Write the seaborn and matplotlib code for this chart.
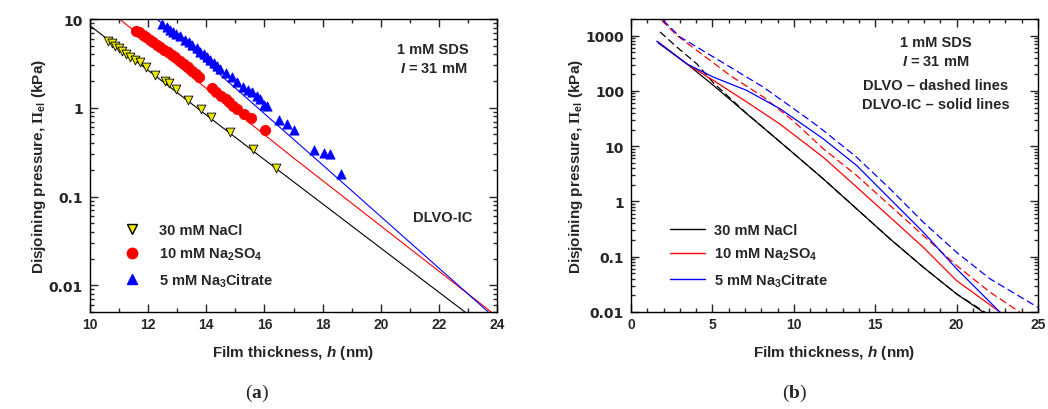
import numpy as np
import pandas as pd
import matplotlib
matplotlib.use("Agg")
import matplotlib.pyplot as plt
import seaborn as sns
from matplotlib.lines import Line2D
from matplotlib.ticker import MultipleLocator, LogLocator, NullFormatter, FixedLocator, FixedFormatter

# ---- panel (a): measured points ----
nacl_h = [10.63, 10.75, 10.86, 10.98, 11.09, 11.24, 11.38, 11.55, 11.72, 11.93, 12.24, 12.59,
          12.70, 12.97, 13.36, 13.82, 14.17, 14.80, 15.61, 16.41]
nacl_p = [5.70, 5.32, 5.00, 4.67, 4.40, 4.03, 3.70, 3.45, 3.25, 2.85, 2.34, 2.02,
          1.90, 1.63, 1.23, 0.966, 0.79, 0.54, 0.342, 0.212]

so4_h = [11.59, 11.70, 11.82, 11.93, 12.05, 12.16, 12.30, 12.41, 12.55, 12.67, 12.82, 12.93,
         13.08, 13.22, 13.36, 13.51, 13.66, 13.74, 14.20, 14.34, 14.51, 14.66, 14.77, 14.92,
         15.06, 15.29, 15.52, 16.02]
so4_p = [7.38, 7.08, 6.66, 6.21, 5.85, 5.46, 5.14, 4.79, 4.51, 4.21, 3.93, 3.70,
         3.39, 3.11, 2.85, 2.61, 2.40, 2.20, 1.65, 1.51, 1.36, 1.25, 1.15, 1.05,
         0.98, 0.85, 0.76, 0.565]

cit_h = [12.47, 12.64, 12.76, 12.87, 12.97, 13.08, 13.28, 13.39, 13.51, 13.68, 13.79, 13.91,
         14.02, 14.14, 14.28, 14.37, 14.48, 14.69, 14.89, 15.06, 15.26, 15.43, 15.57, 15.75,
         15.86, 16.00, 16.09, 16.49, 16.78, 17.01, 17.70, 18.05, 18.25, 18.62]
cit_p = [8.79, 8.06, 7.58, 7.08, 6.78, 6.38, 5.85, 5.46, 5.09, 4.67, 4.28, 4.03,
         3.70, 3.48, 3.19, 2.98, 2.73, 2.46, 2.20, 1.93, 1.70, 1.60, 1.49, 1.36,
         1.25, 1.07, 1.04, 0.73, 0.65, 0.565, 0.336, 0.308, 0.30, 0.179]

# DLVO-IC fit lines (a)
fit_nacl_h = [10.0, 16.0, 22.93]
fit_nacl_p = [8.4, 0.26, 0.0049]
fit_so4_h = [11.01, 17.0, 23.8]
fit_so4_p = [10.0, 0.272, 0.0050]
fit_cit_h = [12.30, 18.0, 23.7]
fit_cit_p = [10.0, 0.227, 0.0050]

# ---- panel (b): theory curves (IC = solid, DLVO = dashed) ----
b_nacl_ic_h = [1.68, 3.42, 5.06, 7.11, 9.15, 11.81, 13.86, 15.91, 17.95, 20.0, 21.64]
b_nacl_ic_p = [738, 311, 126, 38.6, 12.0, 2.56, 0.735, 0.21, 0.0646, 0.0212, 0.0099]
b_nacl_dl_h = [1.78, 2.81, 4.04, 5.06, 7.11, 9.15, 11.81, 13.86, 15.91, 17.95, 20.0, 21.75]
b_nacl_dl_p = [1167, 624, 309, 140, 39.0, 12.0, 2.56, 0.735, 0.21, 0.0646, 0.0212, 0.0099]

b_so4_ic_h = [1.68, 3.42, 5.06, 7.11, 9.15, 11.81, 13.86, 15.91, 17.95, 20.0, 22.67]
b_so4_ic_p = [769, 309, 155, 63, 25.1, 6.31, 1.82, 0.519, 0.148, 0.0369, 0.0099]
b_so4_dl_h = [1.88, 2.81, 4.04, 6.08, 8.13, 9.94, 11.81, 13.86, 15.91, 17.95, 20.0, 22.05, 23.89]
b_so4_dl_p = [1892, 1012, 542, 191, 77.6, 29.2, 8.97, 2.95, 0.843, 0.242, 0.0692, 0.0228, 0.0099]

b_cit_ic_h = [1.58, 3.42, 5.06, 7.11, 9.15, 11.81, 13.86, 15.91, 17.95, 20.0, 22.67]
b_cit_ic_p = [794, 309, 178, 102, 47.6, 13.6, 4.47, 1.11, 0.278, 0.0603, 0.0099]
b_cit_dl_h = [1.98, 3.01, 4.04, 6.08, 8.13, 9.77, 11.0, 11.81, 13.86, 15.91, 17.95, 20.0, 22.05, 25.02]
b_cit_dl_p = [1892, 946, 624, 271, 117, 53, 29.2, 19.3, 6.31, 1.69, 0.422, 0.12, 0.0398, 0.012]

labels = ["30 mM NaCl", r"10 mM Na$_{\mathsf{2}}$SO$_{\mathsf{4}}$", r"5 mM Na$_{\mathsf{3}}$Citrate"]
colors = ["black", "red", "blue"]

sns.set_style("ticks")
plt.rcParams["font.family"] = ["Liberation Sans", "DejaVu Sans"]
plt.rcParams["font.weight"] = "bold"
plt.rcParams["axes.labelweight"] = "bold"
plt.rcParams["mathtext.fontset"] = "custom"
plt.rcParams["mathtext.rm"] = "Liberation Serif"
plt.rcParams["mathtext.bf"] = "Liberation Serif:bold"
plt.rcParams["mathtext.sf"] = "Liberation Sans:bold"
plt.rcParams["mathtext.it"] = "Liberation Sans:italic:bold"
plt.rcParams["xtick.direction"] = "in"
plt.rcParams["ytick.direction"] = "in"

fig = plt.figure(figsize=(10.48, 4.10), dpi=100)
ax1 = fig.add_axes([0.0859, 0.2366, 0.3884, 0.7146])
ax2 = fig.add_axes([0.6021, 0.2366, 0.3884, 0.7146])


def style_axis(ax):
    for s in ax.spines.values():
        s.set_linewidth(1.0)
        s.set_color("black")
    ax.tick_params(which="both", top=True, right=True, labelsize=10, width=1.0)
    ax.tick_params(which="major", length=6)
    ax.tick_params(which="minor", length=3)
    ax.tick_params(axis="y", which="major", pad=5)
    ax.xaxis.set_minor_locator(MultipleLocator(1))
    ax.yaxis.set_minor_locator(LogLocator(base=10, subs=np.arange(2, 10)))
    ax.yaxis.set_minor_formatter(NullFormatter())
    for t in ax.get_yticklabels():
        t.set_fontfamily("DejaVu Sans")
        t.set_fontweight("bold")
    ax.set_xlabel(r"Film thickness, $\mathit{h}$ (nm)", fontsize=11, labelpad=9)
    ax.set_ylabel(r"Disjoining pressure, $\Pi_{\mathsf{el}}$ (kPa)", fontsize=11, labelpad=0.5)


# panel (a)
for (fh, fp), c in zip([(fit_nacl_h, fit_nacl_p), (fit_so4_h, fit_so4_p), (fit_cit_h, fit_cit_p)], colors):
    d = pd.DataFrame({"h": fh, "p": fp})
    sns.lineplot(data=d, x="h", y="p", ax=ax1, color=c, lw=0.8, sort=False)

pts = [(nacl_h, nacl_p, "v", "#e8e800", "black", 40),
       (so4_h, so4_p, "o", "red", "red", 55),
       (cit_h, cit_p, "^", "blue", "blue", 44)]
for h, p, m, fc, ec, s in pts:
    d = pd.DataFrame({"h": h, "p": p})
    sns.scatterplot(data=d, x="h", y="p", ax=ax1, marker=m, color=fc, edgecolor=ec,
                    linewidth=0.6, s=s, zorder=3)

ax1.set_yscale("log")
ax1.set_xlim(10, 24)
ax1.set_ylim(0.005, 10)
ax1.xaxis.set_major_locator(MultipleLocator(2))
ax1.yaxis.set_major_locator(FixedLocator([0.01, 0.1, 1, 10]))
ax1.yaxis.set_major_formatter(FixedFormatter(["0.01", "0.1", "1", "10"]))
style_axis(ax1)

h1 = [Line2D([], [], ls="none", marker="v", markerfacecolor="#e8e800", markeredgecolor="black", markersize=6.5),
      Line2D([], [], ls="none", marker="o", markerfacecolor="red", markeredgecolor="red", markersize=7.5),
      Line2D([], [], ls="none", marker="^", markerfacecolor="blue", markeredgecolor="blue", markersize=6.5)]
ax1.legend(h1, labels, loc="lower left", bbox_to_anchor=(0.05, 0.035), frameon=False,
           fontsize=10.5, handletextpad=1.2, labelspacing=0.62, handlelength=1.2)
ax1.text(0.843, 0.898, "1 mM SDS", transform=ax1.transAxes, ha="center", va="center", fontsize=10.5)
ax1.text(0.843, 0.833, r"$\mathit{I}$ = 31 mM", transform=ax1.transAxes, ha="center", va="center", fontsize=10.5)
ax1.text(0.867, 0.324, "DLVO-IC", transform=ax1.transAxes, ha="center", va="center", fontsize=10.5)

# panel (b)
curves = [(b_nacl_ic_h, b_nacl_ic_p, "black", "-"), (b_nacl_dl_h, b_nacl_dl_p, "black", "--"),
          (b_so4_ic_h, b_so4_ic_p, "red", "-"), (b_so4_dl_h, b_so4_dl_p, "red", "--"),
          (b_cit_ic_h, b_cit_ic_p, "blue", "-"), (b_cit_dl_h, b_cit_dl_p, "blue", "--")]
for h, p, c, ls in curves:
    d = pd.DataFrame({"h": h, "p": p})
    sns.lineplot(data=d, x="h", y="p", ax=ax2, color=c, lw=0.9, sort=False)
    if ls == "--":
        ax2.lines[-1].set_dashes([6, 3])

ax2.set_yscale("log")
ax2.set_xlim(0, 25)
ax2.set_ylim(0.01, 2000)
ax2.xaxis.set_major_locator(MultipleLocator(5))
ax2.yaxis.set_major_locator(FixedLocator([0.01, 0.1, 1, 10, 100, 1000]))
ax2.yaxis.set_major_formatter(FixedFormatter(["0.01", "0.1", "1", "10", "100", "1000"]))
style_axis(ax2)

h2 = [Line2D([], [], color=c, lw=1.0) for c in colors]
ax2.legend(h2, labels, loc="lower left", bbox_to_anchor=(0.063, 0.035), frameon=False,
           fontsize=10.5, handletextpad=0.6, labelspacing=0.62, handlelength=2.4)
ax2.text(0.749, 0.921, "1 mM SDS", transform=ax2.transAxes, ha="center", va="center", fontsize=10.5)
ax2.text(0.749, 0.857, r"$\mathit{I}$ = 31 mM", transform=ax2.transAxes, ha="center", va="center", fontsize=10.5)
ax2.text(0.749, 0.775, "DLVO \u2013 dashed lines", transform=ax2.transAxes, ha="center", va="center", fontsize=10.5)
ax2.text(0.749, 0.710, "DLVO-IC \u2013 solid lines", transform=ax2.transAxes, ha="center", va="center", fontsize=10.5)

fig.text(257 / 1048, 1 - 393 / 410, r"($\mathbf{a}$)", ha="center", va="center", fontsize=14,
         family="Liberation Serif", weight="normal")
fig.text(795 / 1048, 1 - 393 / 410, r"($\mathbf{b}$)", ha="center", va="center", fontsize=14,
         family="Liberation Serif", weight="normal")

fig.savefig("out.png", dpi=100)
